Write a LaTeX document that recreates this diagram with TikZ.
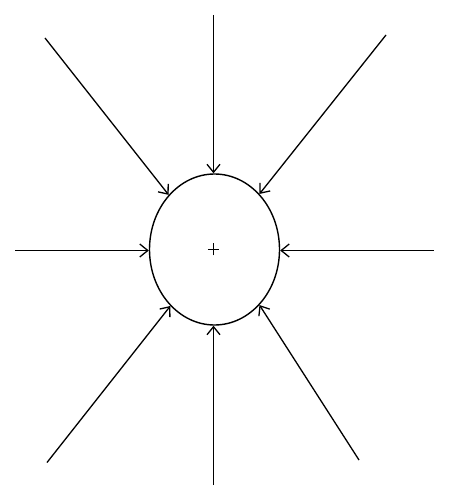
\documentclass[tikz,border=0pt]{standalone}
\usetikzlibrary{arrows.meta,shapes.geometric}
\begin{document}
\begin{tikzpicture}[x=1pt,y=-1pt,
  inarrow/.style={line width=1.3pt,-{Straight Barb[length=8pt,width=13pt,line width=1.3pt]}},
  blob/.style={ellipse,draw,line width=1.4pt,minimum width=130pt,minimum height=151pt,inner sep=0pt},
  centermark/.style={line width=1.2pt}]
\useasboundingbox (0,0) rectangle (448,500);
\node[blob] (e) at (214.5,249.5) {};
\coordinate (c) at (213.3,249.3);
\draw[centermark] ([xshift=-5.5pt]c) -- ([xshift=5.5pt]c)
                  ([yshift=-6pt]c) -- ([yshift=6pt]c);
\coordinate (t) at (213.5,15);
\coordinate (b) at (213.5,485);
\coordinate (l) at (15,250.5);
\coordinate (r) at (433.5,250.5);
\coordinate (tl) at (45,38);
\coordinate (tr) at (386,35);
\coordinate (bl) at (47,462.5);
\coordinate (br) at (359,460);
\draw[inarrow] (t) -- (t |- e.north);
\draw[inarrow] (b) -- (b |- e.south);
\draw[inarrow] (l) -- (l -| e.west);
\draw[inarrow] (r) -- (r -| e.east);
\draw[inarrow] (tl) -- (e.130);
\draw[inarrow] (tr) -- (e.51);
\draw[inarrow] (bl) -- (e.232);
\draw[inarrow] (br) -- (e.309);
\end{tikzpicture}
\end{document}
